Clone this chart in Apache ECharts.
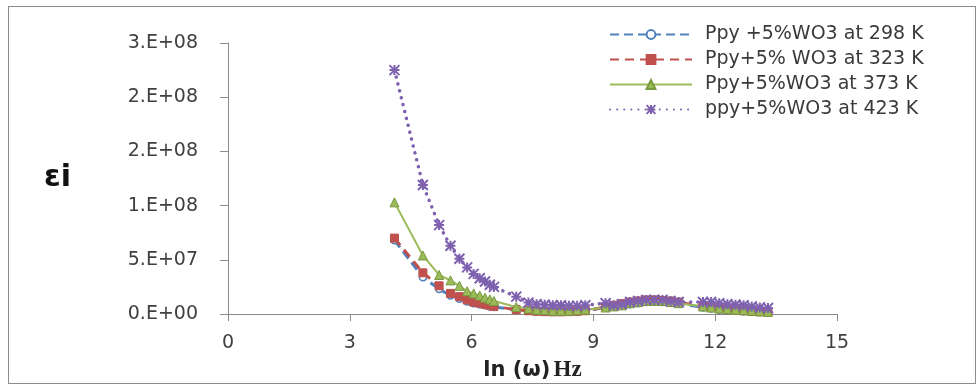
<!DOCTYPE html>
<html>
<head>
<meta charset="utf-8">
<script src="https://cdn.jsdelivr.net/npm/echarts@6/dist/echarts.min.js"></script>
<style>
html,body{margin:0;padding:0;background:#fff;}
#frame{position:absolute;left:8px;top:6px;width:966px;height:376px;border:1px solid #8c8c8c;}
#chart{position:absolute;left:0;top:0;width:977px;height:387px;}
</style>
</head>
<body>
<div id="frame"></div>
<div id="chart"></div>
<script>
// ln(omega) values
const lnW = [4.1, 4.8, 5.2, 5.48, 5.7, 5.89, 6.05, 6.2, 6.33, 6.45, 6.55, 7.1, 7.4, 7.6, 7.8, 8.0, 8.2, 8.4, 8.6, 8.8, 9.3, 9.5, 9.7, 9.9, 10.1, 10.3, 10.5, 10.7, 10.9, 11.1, 11.7, 11.9, 12.1, 12.3, 12.5, 12.7, 12.9, 13.1, 13.3];

const seriesNames = ["Ppy +5%WO3 at 298 K", "Ppy+5% WO3 at 323 K", "Ppy+5%WO3 at 373 K", "ppy+5%WO3 at 423 K"];

const eps298 = [6.8e7, 3.4e7, 2.3e7, 1.7e7, 1.4e7, 1.15e7, 1.0e7, 9e6, 8e6, 7e6, 6.5e6, 4e6, 3e6, 2.5e6, 2e6, 2e6, 2e6, 2e6, 2.5e6, 3e6, 6e6, 7e6, 8e6, 9e6, 1.0e7, 1.1e7, 1.15e7, 1.1e7, 1.05e7, 1.0e7, 6e6, 5e6, 4e6, 3.5e6, 3e6, 2.5e6, 2e6, 1.8e6, 1.5e6];
const eps323 = [7.0e7, 3.8e7, 2.6e7, 1.9e7, 1.6e7, 1.3e7, 1.1e7, 1.0e7, 9e6, 8e6, 7e6, 4e6, 3e6, 2.5e6, 2.2e6, 2e6, 2e6, 2.2e6, 2.5e6, 3e6, 6.5e6, 8e6, 9.5e6, 1.1e7, 1.2e7, 1.3e7, 1.3e7, 1.25e7, 1.2e7, 1.1e7, 7e6, 6e6, 5e6, 4e6, 3.5e6, 3e6, 2.5e6, 2e6, 1.8e6];
const eps373 = [1.03e8, 5.4e7, 3.6e7, 3.1e7, 2.6e7, 2.1e7, 1.9e7, 1.7e7, 1.5e7, 1.35e7, 1.2e7, 6.5e6, 5e6, 4e6, 3.5e6, 3e6, 3e6, 3e6, 3.5e6, 4e6, 6e6, 7e6, 8e6, 1.0e7, 1.1e7, 1.2e7, 1.2e7, 1.2e7, 1.1e7, 1.0e7, 7e6, 6e6, 5e6, 4.5e6, 4e6, 3.5e6, 3e6, 2.5e6, 2e6];
const eps423 = [2.25e8, 1.19e8, 8.2e7, 6.3e7, 5.1e7, 4.3e7, 3.7e7, 3.3e7, 3.0e7, 2.7e7, 2.5e7, 1.6e7, 1.05e7, 9e6, 8.5e6, 8e6, 8e6, 7.5e6, 7.5e6, 8e6, 1.0e7, 8e6, 9e6, 1.1e7, 1.2e7, 1.3e7, 1.3e7, 1.3e7, 1.2e7, 1.1e7, 1.1e7, 1.1e7, 1.0e7, 9e6, 8.5e6, 8e6, 7e6, 6e6, 5.5e6];

const xTicks = {min: 0, max: 15, interval: 3};
const yTicks = {min: 0, max: 2.5e8, interval: 5e7};

function pair(ys){ return lnW.map((x,i)=>[x, ys[i]]); }

function fmtE(v){
  const s = Number(v).toExponential(0); // e.g. "2e+8"
  const m = s.split('e');
  const mant = m[0];
  let ex = parseInt(m[1],10);
  const sign = ex < 0 ? '-' : '+';
  ex = Math.abs(ex);
  return mant + '.E' + sign + (ex < 10 ? '0' + ex : '' + ex);
}

const colors = ['#4F81BD', '#C0504D', '#9BBB59', '#7E62B0'];
const starPath = 'path://M5,0L5,10M0,0L10,10M10,0L0,10M0,5L10,5';

const chart = echarts.init(document.getElementById('chart'));
const font = 'DejaVu Sans';
chart.setOption({
  animation: false,
  backgroundColor: 'transparent',
  grid: {left: 228, right: 140, top: 43, bottom: 73, containLabel: false, outerBoundsMode: 'none'},
  legend: {
    orient: 'vertical',
    left: 604,
    top: 20,
    itemWidth: 82,
    itemHeight: 11,
    itemGap: 6,
    textStyle: {fontFamily: font, fontSize: 19, color: '#3a3a3a', padding: [0, 0, 0, 8]},
    data: seriesNames
  },
  xAxis: {
    type: 'value',
    min: xTicks.min, max: xTicks.max, interval: xTicks.interval,
    name: '{a|ln (ω)} {b|Hz}',
    nameLocation: 'middle',
    nameGap: 45,
    nameTextStyle: {
      rich: {
        a: {fontFamily: font, fontWeight: 'bold', fontSize: 21, color: '#222'},
        b: {fontFamily: 'Liberation Serif', fontWeight: 'bold', fontSize: 23, color: '#222'}
      }
    },
    axisLine: {lineStyle: {color: '#8a8a8a', width: 1}},
    axisTick: {show: true, length: 7, lineStyle: {color: '#8a8a8a'}},
    splitLine: {show: false},
    axisLabel: {fontFamily: font, fontSize: 19, color: '#404040', margin: 20}
  },
  yAxis: {
    type: 'value',
    min: yTicks.min, max: yTicks.max, interval: yTicks.interval,
    name: 'εi',
    nameLocation: 'middle',
    nameRotate: 0,
    nameGap: 157,
    nameTextStyle: {fontFamily: font, fontWeight: 'bold', fontSize: 30, color: '#111'},
    axisLine: {show: true, lineStyle: {color: '#8a8a8a', width: 1}},
    axisTick: {show: true, length: 8, lineStyle: {color: '#8a8a8a'}},
    splitLine: {show: false},
    axisLabel: {fontFamily: font, fontSize: 19, color: '#404040', margin: 30, formatter: fmtE}
  },
  series: [
    {
      name: seriesNames[0], type: 'line', data: pair(eps298),
      symbol: 'circle', symbolSize: 7,
      itemStyle: {color: '#ffffff', borderColor: colors[0], borderWidth: 1.5},
      lineStyle: {color: colors[0], width: 3, type: [9, 5]},
      z: 2
    },
    {
      name: seriesNames[1], type: 'line', data: pair(eps323),
      symbol: 'rect', symbolSize: 8,
      itemStyle: {color: colors[1], borderColor: colors[1], borderWidth: 1},
      lineStyle: {color: colors[1], width: 3, type: [9, 6]},
      z: 3
    },
    {
      name: seriesNames[2], type: 'line', data: pair(eps373),
      symbol: 'triangle', symbolSize: 9,
      itemStyle: {color: colors[2], borderColor: '#77993f', borderWidth: 1},
      lineStyle: {color: colors[2], width: 2, type: 'solid'},
      z: 4
    },
    {
      name: seriesNames[3], type: 'line', data: pair(eps423),
      symbol: starPath, symbolSize: 10,
      itemStyle: {color: colors[3], borderColor: colors[3], borderWidth: 2},
      lineStyle: {color: colors[3], width: 3.5, type: [0.1, 7], cap: 'round'},
      z: 5
    }
  ]
});
</script>
</body>
</html>
